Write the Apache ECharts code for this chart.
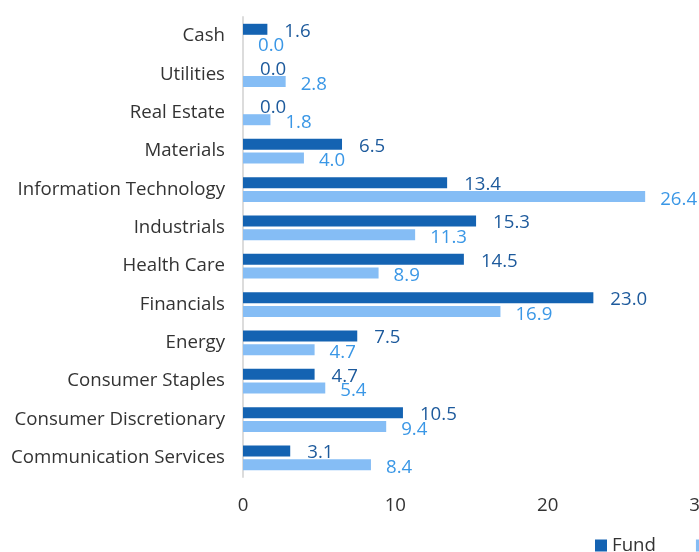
<!DOCTYPE html>
<html>
<head>
<meta charset="utf-8">
<script src="https://cdn.jsdelivr.net/npm/echarts@6/dist/echarts.min.js"></script>
<style>
  html, body { margin: 0; padding: 0; background: #fff; }
  #chart { width: 699px; height: 552px; }
</style>
</head>
<body>
<div id="chart"></div>
<script>
// sectors, bottom to top (category axis starts at the bottom)
const sectors = [
  "Communication Services", "Consumer Discretionary", "Consumer Staples", "Energy",
  "Financials", "Health Care", "Industrials", "Information Technology",
  "Materials", "Real Estate", "Utilities", "Cash"
];
const fundValues = [3.1, 10.5, 4.7, 7.5, 23.0, 14.5, 15.3, 13.4, 6.5, 0.0, 0.0, 1.6];
const benchValues = [8.4, 9.4, 5.4, 4.7, 16.9, 8.9, 11.3, 26.4, 4.0, 1.8, 2.8, 0.0];
const xTicks = [0, 10, 20, 30];

const font = "'Open Sans', 'Noto Sans', sans-serif";
const fs = 18.67; // 14pt
var myChart = echarts.init(document.getElementById("chart"));

var option = {
  animation: false,
  textStyle: { fontFamily: font },
  grid: {
    left: 243,
    right: -1,
    top: 17,
    bottom: 75,
    outerBoundsMode: "none"
  },
  legend: {
    left: 590,
    top: 531,
    width: 320,
    itemWidth: 12,
    itemHeight: 12,
    itemGap: 40,
    icon: "rect",
    textStyle: { fontSize: fs, color: "#333", fontFamily: font },
    data: ["Fund", "Benchmark"]
  },
  xAxis: {
    type: "value",
    min: xTicks[0],
    max: xTicks[xTicks.length - 1],
    interval: 10,
    splitLine: { show: false },
    axisLine: { show: false },
    axisTick: { show: false },
    axisLabel: { fontSize: fs, color: "#333", margin: 19, fontFamily: font }
  },
  yAxis: {
    type: "category",
    data: sectors,
    axisLine: { show: true, lineStyle: { color: "#dcdcdc", width: 2 } },
    axisTick: { show: false },
    axisLabel: { fontSize: fs, color: "#333", margin: 18, fontFamily: font }
  },
  series: [
    {
      name: "Fund",
      type: "bar",
      data: fundValues,
      barWidth: 11,
      barGap: "25%",
      itemStyle: { color: "#1463b2" },
      label: {
        show: true,
        position: "right",
        distance: 17,
        fontSize: fs,
        color: "#1d5a9c",
        fontFamily: font,
        offset: [0, 2],
        formatter: (p) => p.value.toFixed(1)
      }
    },
    {
      name: "Benchmark",
      type: "bar",
      data: benchValues,
      barWidth: 11,
      itemStyle: { color: "#85bdf5" },
      label: {
        show: true,
        position: "right",
        distance: 15,
        fontSize: fs,
        color: "#3a97e6",
        fontFamily: font,
        offset: [0, 3],
        formatter: (p) => p.value.toFixed(1)
      }
    }
  ]
};

option && myChart.setOption(option);
</script>
</body>
</html>
